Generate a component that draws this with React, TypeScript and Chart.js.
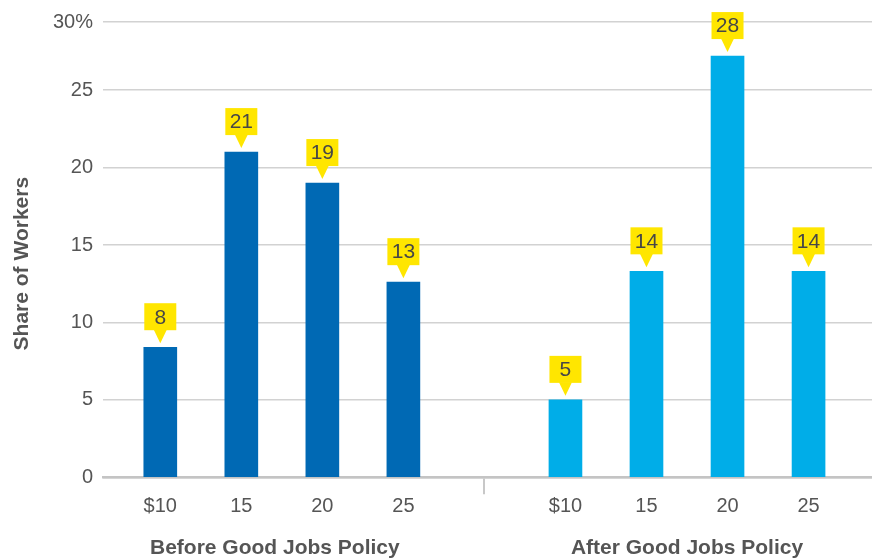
import React, { useEffect, useRef } from 'react';
import { Chart, registerables } from 'chart.js';

Chart.register(...registerables);

const groupTitles = ['Before Good Jobs Policy', 'After Good Jobs Policy'];
const wageLabels = ['$10', '15', '20', '25'];
const beforeSlots = [1, 2, 3, 4];
const afterSlots = [6, 7, 8, 9];
const separatorSlot = 5;
const beforeValues = [8.4, 21.0, 19.0, 12.6];
const afterValues = [5.0, 13.3, 27.2, 13.3];
const beforeLabels = ['8', '21', '19', '13'];
const afterLabels = ['5', '14', '28', '14'];
const yTickValues = [0, 5, 10, 15, 20, 25];
const yTopValue = 29.4;
const yTopLabel = '30%';
const yTitle = 'Share of Workers';

const FONT = "'Liberation Sans', Arial, Helvetica, sans-serif";
const TEXT = '#555555';
const YELLOW = '#FFE600';

const overlayPlugin = {
  id: 'overlay',
  afterDraw(chart: any) {
    const ctx = chart.ctx;
    const labelSets = [beforeLabels, afterLabels];
    ctx.save();
    chart.data.datasets.forEach((ds: any, di: number) => {
      const meta = chart.getDatasetMeta(di);
      meta.data.forEach((el: any, i: number) => {
        const x = el.x;
        const top = el.y;
        const boxBottom = top - 17;
        const boxH = 27;
        const boxW = 32;
        ctx.fillStyle = YELLOW;
        ctx.fillRect(x - boxW / 2, boxBottom - boxH, boxW, boxH);
        ctx.beginPath();
        ctx.moveTo(x - 6.5, boxBottom - 0.5);
        ctx.lineTo(x + 6.5, boxBottom - 0.5);
        ctx.lineTo(x, top - 4);
        ctx.closePath();
        ctx.fill();
        ctx.fillStyle = '#474747';
        ctx.font = `21px ${FONT}`;
        ctx.textAlign = 'center';
        ctx.textBaseline = 'middle';
        ctx.fillText(labelSets[di][i], x, boxBottom - boxH / 2 + 1);
      });
    });
    const xs = chart.scales.x;
    const area = chart.chartArea;
    ctx.fillStyle = TEXT;
    ctx.font = `bold 21px ${FONT}`;
    ctx.textAlign = 'center';
    ctx.textBaseline = 'alphabetic';
    const groups = [beforeSlots, afterSlots];
    groups.forEach((slots, gi) => {
      const mid = (slots[0] + slots[slots.length - 1]) / 2;
      const px = xs.getPixelForValue(mid) - (gi === 0 ? 7 : 0);
      ctx.fillText(groupTitles[gi], px, chart.height - 4);
    });
    ctx.translate(28, (area.top + area.bottom) / 2 + 14);
    ctx.rotate(-Math.PI / 2);
    ctx.fillText(yTitle, 0, 0);
    ctx.restore();
  },
};

export default function App() {
  const ref = useRef<HTMLCanvasElement>(null);
  useEffect(() => {
    document.body.style.margin = '0';
    const canvas = ref.current!;
    const chart = new Chart(canvas, {
      type: 'bar',
      data: {
        datasets: [
          {
            label: groupTitles[0],
            data: beforeSlots.map((s, i) => ({ x: s, y: beforeValues[i] })),
            backgroundColor: '#0069B4',
            barThickness: 33,
            grouped: false,
          } as any,
          {
            label: groupTitles[1],
            data: afterSlots.map((s, i) => ({ x: s, y: afterValues[i] })),
            backgroundColor: '#00ADE8',
            barThickness: 33,
            grouped: false,
          } as any,
        ],
      },
      options: {
        responsive: false,
        animation: false,
        maintainAspectRatio: false,
        layout: { padding: { top: 18.7, right: 0, left: 0, bottom: 0 } },
        plugins: { legend: { display: false }, tooltip: { enabled: false } },
        scales: {
          x: {
            type: 'linear',
            offset: false,
            min: 0.293,
            max: 9.783,
            afterBuildTicks: (s: any) => {
              s.ticks = [...beforeSlots, separatorSlot, ...afterSlots].map((v) => ({ value: v }));
            },
            afterFit: (s: any) => {
              s.height = 80.7;
            },
            ticks: {
              autoSkip: false,
              maxRotation: 0,
              padding: 0,
              color: TEXT,
              font: { family: FONT, size: 20 },
              callback: (v: any) => {
                const bi = beforeSlots.indexOf(v);
                if (bi >= 0) return wageLabels[bi];
                const ai = afterSlots.indexOf(v);
                if (ai >= 0) return wageLabels[ai];
                return '';
              },
            },
            grid: {
              offset: false,
              drawOnChartArea: false,
              drawTicks: true,
              tickLength: 17,
              lineWidth: 2,
              color: (c: any) => (c.tick && c.tick.value === separatorSlot ? '#C8C8C8' : 'rgba(0,0,0,0)'),
            },
            border: { display: true, color: '#C4C4C4', width: 2.5 },
          },
          y: {
            type: 'linear',
            min: 0,
            max: yTopValue,
            afterBuildTicks: (s: any) => {
              s.ticks = [...yTickValues, yTopValue].map((v) => ({ value: v }));
            },
            afterFit: (s: any) => {
              s.width = 103;
            },
            ticks: {
              padding: 10,
              color: TEXT,
              font: { family: FONT, size: 20 },
              callback: (v: any) => (v === yTopValue ? yTopLabel : String(v)),
            },
            grid: { drawTicks: false, color: '#D2D2D2', lineWidth: 1.5 },
            border: { display: false },
          },
        },
      },
      plugins: [overlayPlugin],
    });
    return () => chart.destroy();
  }, []);
  return <canvas ref={ref} width={872} height={558} style={{ display: 'block' }} />;
}
